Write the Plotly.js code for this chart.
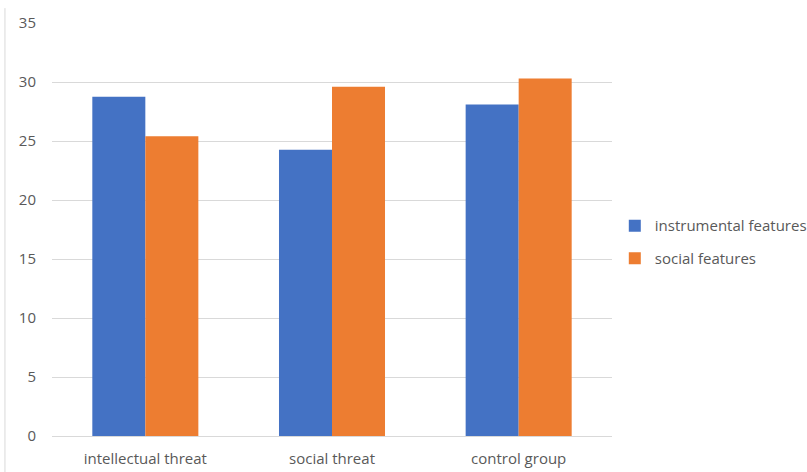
<!DOCTYPE html>
<html>
<head>
<meta charset="utf-8">
<script src="https://cdn.plot.ly/plotly-3.0.1.min.js"></script>
<style>html,body{margin:0;padding:0;background:#fff;}#chart{width:807px;height:472px;}</style>
</head>
<body>
<div id="chart"></div>
<script>
const categories = ["intellectual threat", "social threat", "control group"];
const instrumental = [28.75, 24.25, 28.1];
const social = [25.4, 29.6, 30.3];
const seriesNames = ["instrumental features", "social features"];
const yTicks = [0, 5, 10, 15, 20, 25, 30, 35];

const font = {family: "Open Sans, Liberation Sans, sans-serif", size: 15, color: "#595959"};

const data = [
  {type: "bar", x: categories, y: instrumental, name: seriesNames[0], legendgroup: "a", marker: {color: "#4472C4"}},
  {type: "bar", x: categories, y: social, name: seriesNames[1], legendgroup: "b", marker: {color: "#ED7D31"}}
];

const layout = {
  width: 807, height: 472,
  margin: {l: 52, r: 195, t: 23, b: 36, autoexpand: false},
  paper_bgcolor: "#fff", plot_bgcolor: "#fff",
  font: font,
  barmode: "group",
  bargap: 0.432,
  bargroupgap: 0,
  showlegend: true,
  legend: {x: 1.005, xanchor: "left", y: 0.47, yanchor: "middle", font: font, itemwidth: 30, tracegroupgap: 10, itemclick: false},
  xaxis: {showgrid: false, showline: true, linecolor: "#D9D9D9", linewidth: 1, ticks: "", tickfont: font, ticklabelstandoff: 9, fixedrange: true},
  yaxis: {range: [0, 35], tickvals: yTicks, ticktext: yTicks.map(String), showgrid: true, gridcolor: "#D9D9D9", gridwidth: 1, zeroline: false, showline: false, ticks: "", tickfont: font, ticklabelstandoff: 15, fixedrange: true},
  shapes: [
    {type: "line", xref: "paper", yref: "paper", x0: -0.084, x1: -0.084, y0: -0.09, y1: 1.036, line: {color: "#D9D9D9", width: 1}}
  ]
};

Plotly.newPlot("chart", data, layout, {displayModeBar: false, staticPlot: true});
</script>
</body>
</html>
